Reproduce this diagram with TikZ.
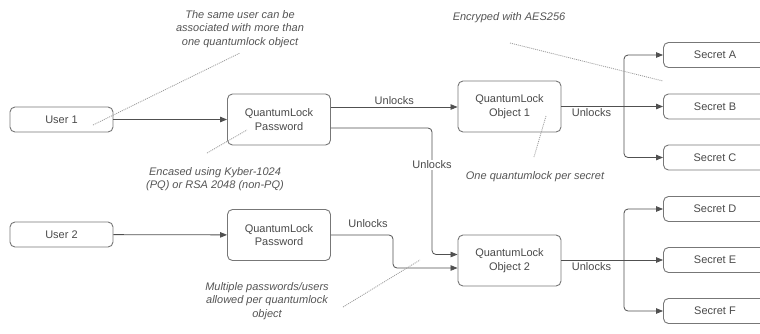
\documentclass[tikz,border=0pt]{standalone}
\usepackage{fontspec}
\setmainfont{Liberation Sans}
\usetikzlibrary{arrows.meta}
\definecolor{linec}{HTML}{505050}
\definecolor{boxc}{HTML}{777777}
\definecolor{txtc}{HTML}{4A4A4A}
\definecolor{notec}{HTML}{555555}
\definecolor{dotc}{HTML}{9A9A9A}
\tikzset{
  box/.style={draw=boxc, line width=0.9pt, rounded corners=5pt, fill=white,
    minimum width=103pt, minimum height=25pt, inner sep=0pt, align=center,
    text=txtc, font=\fontsize{11}{13.5}\selectfont},
  tallbox/.style={box, minimum height=51pt},
  conn/.style={draw=linec, line width=0.8pt, rounded corners=4pt},
  arr/.style={conn, -{Triangle[length=7pt,width=5.5pt]}},
  lbl/.style={text=txtc, font=\fontsize{11}{13.5}\selectfont, inner sep=1pt},
  note/.style={text=notec, font=\fontsize{11}{13.5}\selectfont\itshape, align=center, inner sep=0pt},
  dotline/.style={draw=dotc, line width=0.8pt, dash pattern=on 1pt off 1pt}
}
\begin{document}
\begin{tikzpicture}[x=1pt,y=-1pt]
\path[use as bounding box, fill=white] (0,0) rectangle (760,333);
\clip (0,0) rectangle (760,333);

% nodes
\node[box] (user1) at (61.5,119.5) {User 1};
\node[tallbox] (pw1) at (279,119.5) {QuantumLock\\Password};
\node[tallbox] (obj1) at (509.5,106.5) {QuantumLock\\Object 1};
\node[box] (secA) at (715,55) {Secret A};
\node[box] (secB) at (715,106.5) {Secret B};
\node[box] (secC) at (715,157.5) {Secret C};

\node[box] (user2) at (61.5,234.5) {User 2};
\node[tallbox] (pw2) at (279,235) {QuantumLock\\Password};
\node[tallbox] (obj2) at (509.5,260.5) {QuantumLock\\Object 2};
\node[box] (secD) at (715,209) {Secret D};
\node[box] (secE) at (715,260) {Secret E};
\node[box] (secF) at (715,311) {Secret F};

% connectors
\draw[arr] (user1) -- (pw1);
\draw[arr] (user2) -- (pw2);

\draw[arr] (pw1.east |- 0,107) -- node[lbl, above=1pt] {Unlocks} (obj1.west |- 0,107);
\coordinate (k1) at (432,128);
\draw[arr] (pw1.east |- k1) -- (k1) -- (432,254.5) -- (obj2.west |- 0,254.5);
\node[lbl, fill=white] (ul2) at (432,165) {Unlocks};

\coordinate (k2) at (393,235);
\draw[arr] (pw2.east |- k2) -- (k2) -- (393,268) -- (obj2.west |- 0,268);
\node[lbl] (ul3) at (368,224) {Unlocks};

\coordinate (b1) at (624,106.5);
\draw[conn] (obj1.east |- b1) -- node[lbl, below=1pt, pos=0.48] {Unlocks} (b1);
\draw[arr] (b1) |- (secA);
\draw[arr] (b1) -- (secB);
\draw[arr] (b1) |- (secC);

\coordinate (b2) at (624,260);
\draw[conn] (obj2.east |- b2) -- node[lbl, below=1pt, pos=0.48] {Unlocks} (b2);
\draw[arr] (b2) |- (secD);
\draw[arr] (b2) -- (secE);
\draw[arr] (b2) |- (secF);

% notes
\node[note] (n1) at (240,29) {The same user can be\\associated with more than\\one quantumlock object};
\coordinate (n1a) at (93,125);
\coordinate (n1b) at (240,53);
\draw[dotline] (n1a) -- (n1b);

\node[note] (n2) at (215,179) {Encased using Kyber-1024\\(PQ) or RSA 2048 (non-PQ)};
\coordinate (n2a) at (207,153);
\coordinate (n2b) at (247,130);
\draw[dotline] (n2a) -- (n2b);

\node[note] (n3) at (509,18) {Encryped with AES256};
\coordinate (n3a) at (510,43);
\coordinate (n3b) at (663,81);
\draw[dotline] (n3a) -- (n3b);

\node[note] (n4) at (535,177) {One quantumlock per secret};
\coordinate (n4a) at (546,116);
\coordinate (n4b) at (534,157);
\draw[dotline] (n4a) -- (n4b);

\node[note] (n5) at (267,301) {Multiple passwords/users\\allowed per quantumlock\\object};
\coordinate (n5a) at (343,307);
\coordinate (n5b) at (420,260);
\draw[dotline] (n5a) -- (n5b);
\end{tikzpicture}
\end{document}
